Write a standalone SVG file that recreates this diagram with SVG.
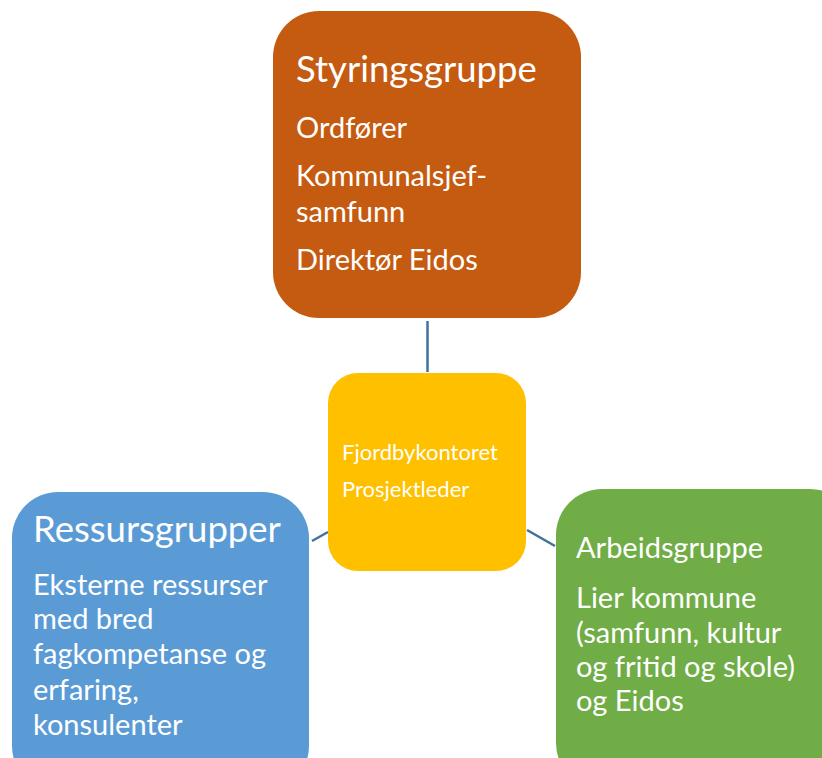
<svg xmlns="http://www.w3.org/2000/svg" width="822" height="758" viewBox="0 0 822 758">
<style>
text{font-family:Lato,"Open Sans","Liberation Sans",sans-serif;fill:#fff}
.h{font-size:36.5px}
.b{font-size:29px}
.s{font-size:22px}
.c{stroke:#41719C;stroke-width:2.5;fill:none}
</style>
<rect width="822" height="758" fill="#fff"/>
<g id="connectors">
<line class="c" x1="427.5" y1="321" x2="427.5" y2="372"/>
<line class="c" x1="312" y1="541" x2="328" y2="532"/>
<line class="c" x1="527" y1="530" x2="555" y2="546"/>
</g>
<g id="styringsgruppe">
<rect x="273" y="11" width="308" height="307" rx="46" fill="#C55A11"/>
<text class="h" x="296" y="82">Styringsgruppe</text>
<text class="b" x="296" y="138">Ordfører</text>
<text class="b" x="296" y="186">Kommunalsjef-</text>
<text class="b" x="296" y="222">samfunn</text>
<text class="b" x="296" y="270">Direktør Eidos</text>
</g>
<g id="fjordbykontoret">
<rect x="328" y="373" width="198" height="198" rx="30" fill="#FFC000"/>
<text class="s" x="342" y="460">Fjordbykontoret</text>
<text class="s" x="342" y="497">Prosjektleder</text>
</g>
<g id="ressursgrupper">
<rect x="12" y="492" width="297" height="300" rx="46" fill="#5B9BD5"/>
<text class="h" x="33" y="542">Ressursgrupper</text>
<text class="b" x="33" y="595">Eksterne ressurser</text>
<text class="b" x="33" y="629">med bred</text>
<text class="b" x="33" y="664">fagkompetanse og</text>
<text class="b" x="33" y="700">erfaring,</text>
<text class="b" x="33" y="735">konsulenter</text>
</g>
<g id="arbeidsgruppe">
<rect x="556" y="489" width="300" height="300" rx="46" fill="#70AD47"/>
<text class="b" x="576" y="558">Arbeidsgruppe</text>
<text class="b" x="576" y="608">Lier kommune</text>
<text class="b" x="576" y="643">(samfunn, kultur</text>
<text class="b" x="576" y="677">og fritid og skole)</text>
<text class="b" x="576" y="711">og Eidos</text>
</g>
</svg>
